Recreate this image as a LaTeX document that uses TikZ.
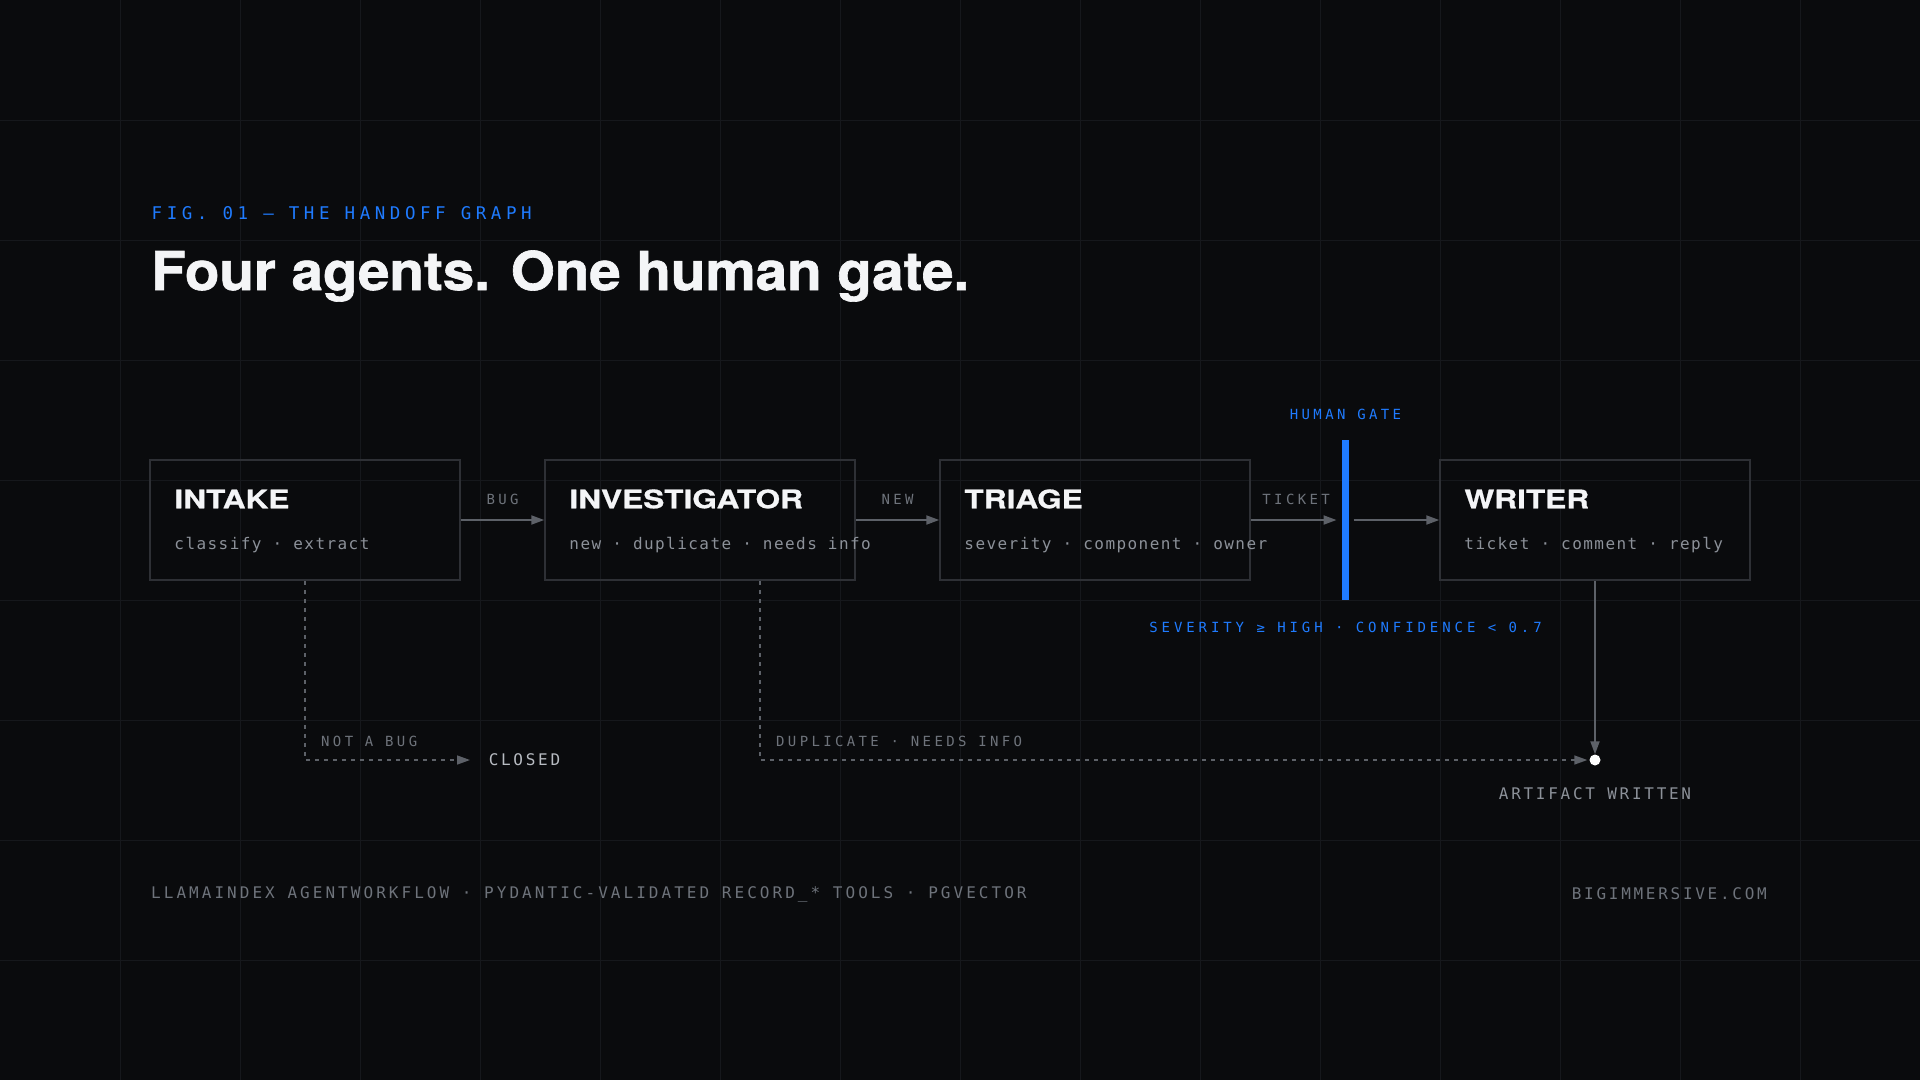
\documentclass[tikz,border=0pt]{standalone}
\usepackage{fontspec}
\usetikzlibrary{arrows.meta,calc,positioning}
\newfontfamily\headfont[FakeStretch=1.056,FakeBold=1.2]{TeX Gyre Heros}
\newfontfamily\agentfont[FakeStretch=1.24,FakeBold=0.8]{TeX Gyre Heros}
\newfontfamily\monosub[LetterSpace=9]{DejaVu Sans Mono}
\newfontfamily\monolab[LetterSpace=24]{DejaVu Sans Mono}
\newfontfamily\monorule[LetterSpace=28]{DejaVu Sans Mono}
\newfontfamily\monofig[LetterSpace=26]{DejaVu Sans Mono}
\newfontfamily\monofoot[LetterSpace=17]{DejaVu Sans Mono}
\newfontfamily\monostack[LetterSpace=19]{DejaVu Sans Mono}

\definecolor{bg}{HTML}{0A0B0D}
\definecolor{gridc}{HTML}{16181C}
\definecolor{boxline}{HTML}{2E3035}
\definecolor{arrowgray}{HTML}{5D6168}
\definecolor{labelgray}{HTML}{6E737B}
\definecolor{subgray}{HTML}{8C9199}
\definecolor{softwhite}{HTML}{B8BCC2}
\definecolor{titlewhite}{HTML}{F4F5F7}
\definecolor{gateblue}{HTML}{1F7BFF}

\tikzset{
  agent/.style={draw=boxline, line width=1.5pt, minimum width=310pt, minimum height=120pt, inner sep=0pt},
  agentname/.style={anchor=base west, inner sep=0pt, text=titlewhite, font=\agentfont\bfseries\fontsize{25.5}{30}\selectfont},
  agentjobs/.style={anchor=base west, inner sep=0pt, text=subgray, font=\monosub\fontsize{16}{19}\selectfont},
  edgelabel/.style={inner sep=0pt, text=labelgray, font=\monolab\fontsize{14}{17}\selectfont},
  gatelabel/.style={inner sep=0pt, text=gateblue, font=\monolab\fontsize{14}{17}\selectfont},
  footlabel/.style={inner sep=0pt, text=labelgray, font=\monofoot\fontsize{16}{19}\selectfont},
  flow/.style={draw=arrowgray, line width=2pt, -{Triangle[length=13pt,width=9pt]}},
  reject/.style={draw=arrowgray, line width=1.5pt, dash pattern=on 4.5pt off 4.5pt, -{Triangle[length=13pt,width=9pt]}},
  gridline/.style={draw=gridc, line width=1pt},
}

\begin{document}
\begin{tikzpicture}[x=1pt,y=-1pt]
\useasboundingbox (0,0) rectangle (1920,1080);
\fill[bg] (0,0) rectangle (1920,1080);
% grid
\foreach \x in {120,240,...,1800} \draw[gridline] (\x,0) -- (\x,1080);
\foreach \y in {120,240,...,960} \draw[gridline] (0,\y) -- (1920,\y);

% heading
\node[anchor=west, inner sep=0pt, text=gateblue, font=\monofig\fontsize{17.5}{20}\selectfont] (figlabel) at (151.5,213.5) {FIG. 01 — THE HANDOFF GRAPH};
\node[anchor=base west, inner sep=0pt, text=titlewhite, font=\headfont\bfseries\fontsize{53.5}{60}\selectfont] (headline) at (151,290) {Four agents. One human gate.};

% agents
\node[agent] (intake) at (305,520) {};
\node[agentname] (intakename) at ([xshift=25pt,yshift=-49pt]intake.north west) {INTAKE};
\node[agentjobs] (intakejobs) at ([xshift=25pt,yshift=-90pt]intake.north west) {classify · extract};

\node[agent] (investigator) at (700,520) {};
\node[agentname] (investigatorname) at ([xshift=25pt,yshift=-49pt]investigator.north west) {INVESTIGATOR};
\node[agentjobs] (investigatorjobs) at ([xshift=25pt,yshift=-90pt]investigator.north west) {new · duplicate · needs info};

\node[agent] (triage) at (1095,520) {};
\node[agentname] (triagename) at ([xshift=25pt,yshift=-49pt]triage.north west) {TRIAGE};
\node[agentjobs] (triagejobs) at ([xshift=25pt,yshift=-90pt]triage.north west) {severity · component · owner};

\node[agent] (writer) at (1595,520) {};
\node[agentname] (writername) at ([xshift=25pt,yshift=-49pt]writer.north west) {WRITER};
\node[agentjobs] (writerjobs) at ([xshift=25pt,yshift=-90pt]writer.north west) {ticket · comment · reply};

% human gate
\node[fill=gateblue, minimum width=7.6pt, minimum height=160pt, inner sep=0pt] (gate) at (1345.5,520) {};
\node[gatelabel] (gatename) at ([yshift=25pt]gate.north) {HUMAN GATE};
\node[gatelabel, font=\monorule\fontsize{14}{17}\selectfont] (gaterule) at ([yshift=-27pt]gate.south) {SEVERITY ≥ HIGH · CONFIDENCE < 0.7};

% handoffs
\draw[flow] (intake) -- (investigator);
\node[edgelabel] (buglabel) at ($(intake.east)!0.5!(investigator.west)+(0,-21)$) {BUG};
\draw[flow] (investigator) -- (triage);
\node[edgelabel] (newlabel) at ($(investigator.east)!0.5!(triage.west)+(0,-21)$) {NEW};
\draw[flow, shorten >=5pt] (triage) -- (gate);
\node[edgelabel] (ticketlabel) at ($(triage.east)!0.5!(gate.west)+(0,-21)$) {TICKET};
\draw[flow, shorten <=4pt] (gate) -- (writer);

% exits
\node[circle, fill=white, inner sep=0pt, minimum size=11pt] (artifact) at (1595,760) {};
\node[anchor=center, inner sep=0pt, text=subgray, font=\monofoot\fontsize{16}{19}\selectfont] (artifactlabel) at ([yshift=-34pt]artifact.center) {ARTIFACT WRITTEN};
\node[anchor=west, inner sep=0pt, text=softwhite, font=\monofoot\fontsize{16}{19}\selectfont] (closed) at (488.6,760) {CLOSED};

\draw[reject, shorten >=18.6pt] (intake.south) |- (closed.west);
\node[edgelabel, anchor=west] (notbug) at (321,741) {NOT A BUG};
\draw[reject, shorten >=2pt] ([xshift=60pt]investigator.south) |- (artifact);
\node[edgelabel, anchor=west] (duplabel) at (776,741) {DUPLICATE · NEEDS INFO};
\draw[flow] (writer.south) -- (artifact);

% footer
\node[footlabel, anchor=west, font=\monostack\fontsize{16}{19}\selectfont] (stack) at (151,894) {LLAMAINDEX AGENTWORKFLOW · PYDANTIC-VALIDATED RECORD\_* TOOLS · PGVECTOR};
\node[footlabel, anchor=east] (site) at (1767,894) {BIGIMMERSIVE.COM};
\end{tikzpicture}
\end{document}
